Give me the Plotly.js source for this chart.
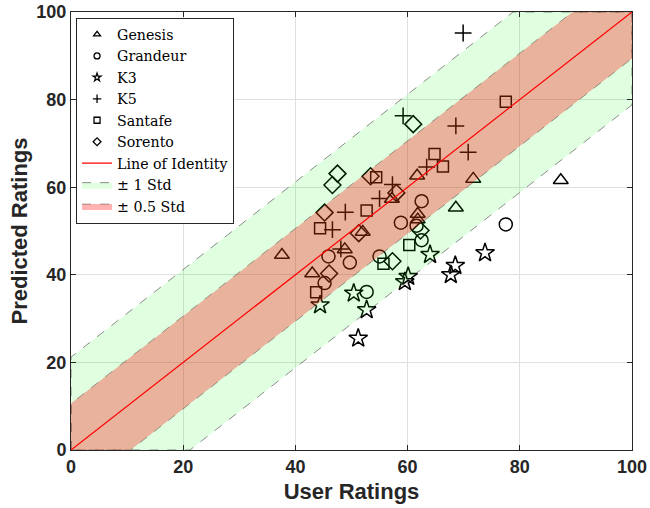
<!DOCTYPE html>
<html>
<head>
<meta charset="utf-8">
<script src="https://cdn.plot.ly/plotly-3.0.1.min.js"></script>
<style>html,body{margin:0;padding:0;background:#fff;}#chart{width:650px;height:508px;}</style>
</head>
<body>
<div id="chart"></div>
<script>
// Series data (User rating, Predicted rating)
const genesisX  = [37.6, 43.0, 48.8, 52.0, 57.2, 61.7, 71.7, 68.6, 61.8, 61.8, 87.3];
const genesisY  = [44.5, 40.3, 45.8, 49.8, 57.3, 62.6, 61.9, 55.3, 53.9, 52.6, 61.6];
const grandeurX = [62.5, 58.8, 61.6, 62.5, 45.9, 49.7, 55.0, 45.2, 52.7, 77.5];
const grandeurY = [56.8, 51.9, 51.2, 47.9, 44.2, 42.8, 44.2, 38.1, 36.1, 51.5];
const k3X       = [64.0, 73.8, 68.5, 67.7, 60.1, 59.5, 50.4, 44.4, 52.7, 51.2];
const k3Y       = [44.6, 45.0, 42.1, 40.0, 39.6, 38.4, 35.8, 33.1, 32.0, 25.5];
const k5X       = [69.9, 59.2, 68.6, 70.8, 63.4, 57.3, 55.0, 48.9, 46.6, 48.1];
const k5Y       = [95.2, 76.3, 74.0, 68.0, 64.6, 60.6, 57.4, 54.3, 50.3, 45.9];
const santafeX  = [77.5, 64.8, 66.3, 54.4, 52.7, 44.4, 43.7, 60.3, 55.7];
const santafeY  = [79.5, 67.6, 64.7, 62.3, 54.7, 50.6, 36.0, 46.8, 42.5];
const sorentoX  = [61.0, 47.5, 46.6, 53.4, 58.0, 45.2, 51.3, 46.0, 57.3, 62.3];
const sorentoY  = [74.4, 63.1, 60.5, 62.5, 58.7, 54.2, 49.5, 40.3, 43.1, 50.1];

const seriesNames = ["Genesis", "Grandeur", "K3", "K5", "Santafe", "Sorento"];
const stdValue = 21.2;          // one standard deviation
const axisRange = [0, 100];
const tickVals = [0, 20, 40, 60, 80, 100];

const symbols = ["triangle-up-open", "circle-open", "star-open", "cross-thin-open", "square-open", "diamond-open"];
const sizes = [13, 13, 14, 12, 11, 13];
const xs = [genesisX, grandeurX, k3X, k5X, santafeX, sorentoX];
const ys = [genesisY, grandeurY, k3Y, k5Y, santafeY, sorentoY];

function band(s) {
  const lo = axisRange[0], hi = axisRange[1];
  return {
    x: [lo, lo, hi - s, hi, hi, lo + s, lo],
    y: [lo, lo + s, hi, hi, hi - s, lo, lo]
  };
}

const traces = [];
// legend-only entries with small symbols
seriesNames.forEach((n, i) => {
  traces.push({
    type: "scatter", mode: "markers", x: [null], y: [null], name: n,
    legendgroup: n,
    marker: {symbol: symbols[i], size: 6, color: "#000", line: {width: 1.3, color: "#000"}},
    hoverinfo: "skip"
  });
});
// actual markers
seriesNames.forEach((n, i) => {
  traces.push({
    type: "scatter", mode: "markers", x: xs[i], y: ys[i], name: n,
    legendgroup: n, showlegend: false,
    marker: {symbol: symbols[i], size: sizes[i], color: "#000", line: {width: 1.5, color: "#000"}}
  });
});
const b1 = band(stdValue), b05 = band(stdValue / 2);
traces.push({
  type: "scatter", mode: "lines", x: b1.x, y: b1.y, fill: "toself",
  fillcolor: "rgba(0,255,0,0.12)", name: "± 1 Std", legendrank: 1001,
  line: {color: "rgba(40,40,40,0.75)", width: 0.7, dash: "dash"}, hoverinfo: "skip"
});
traces.push({
  type: "scatter", mode: "lines", x: b05.x, y: b05.y, fill: "toself",
  fillcolor: "rgba(255,0,0,0.3)", name: "± 0.5 Std", legendrank: 1002,
  line: {color: "rgba(40,40,40,0.6)", width: 0.7, dash: "dash"}, hoverinfo: "skip"
});
traces.push({
  type: "scatter", mode: "lines", x: axisRange, y: axisRange, name: "Line of Identity",
  legendrank: 1000, line: {color: "#ff0000", width: 1.2}
});

const axisCommon = {
  range: axisRange, tickvals: tickVals, showgrid: true, gridcolor: "#e0e0e0", gridwidth: 1,
  zeroline: false, showline: true, linecolor: "#262626", linewidth: 1, mirror: "ticks",
  ticks: "inside", ticklen: 5, tickcolor: "#262626",
  tickfont: {family: "Liberation Sans, Arial, sans-serif", size: 18, color: "#262626", weight: "bold"}
};
const titleFont = {family: "Liberation Sans, Arial, sans-serif", size: 22, color: "#262626", weight: "bold"};

const layout = {
  width: 650, height: 508,
  margin: {l: 71, r: 18, t: 12, b: 58},
  paper_bgcolor: "#fff", plot_bgcolor: "#fff",
  showlegend: true,
  legend: {
    x: 0.009, y: 0.987, xanchor: "left", yanchor: "top",
    bgcolor: "#fff", bordercolor: "#262626", borderwidth: 1,
    font: {family: "DejaVu Serif, Liberation Serif, serif", size: 14.2, color: "#000"},
    tracegroupgap: 0
  },
  xaxis: Object.assign({}, axisCommon, {
    title: {text: "User Ratings", standoff: 8, font: titleFont}
  }),
  yaxis: Object.assign({}, axisCommon, {
    title: {text: "Predicted Ratings", standoff: 2, font: titleFont}
  })
};

Plotly.newPlot("chart", traces, layout, {displayModeBar: false, staticPlot: true});
</script>
</body>
</html>
